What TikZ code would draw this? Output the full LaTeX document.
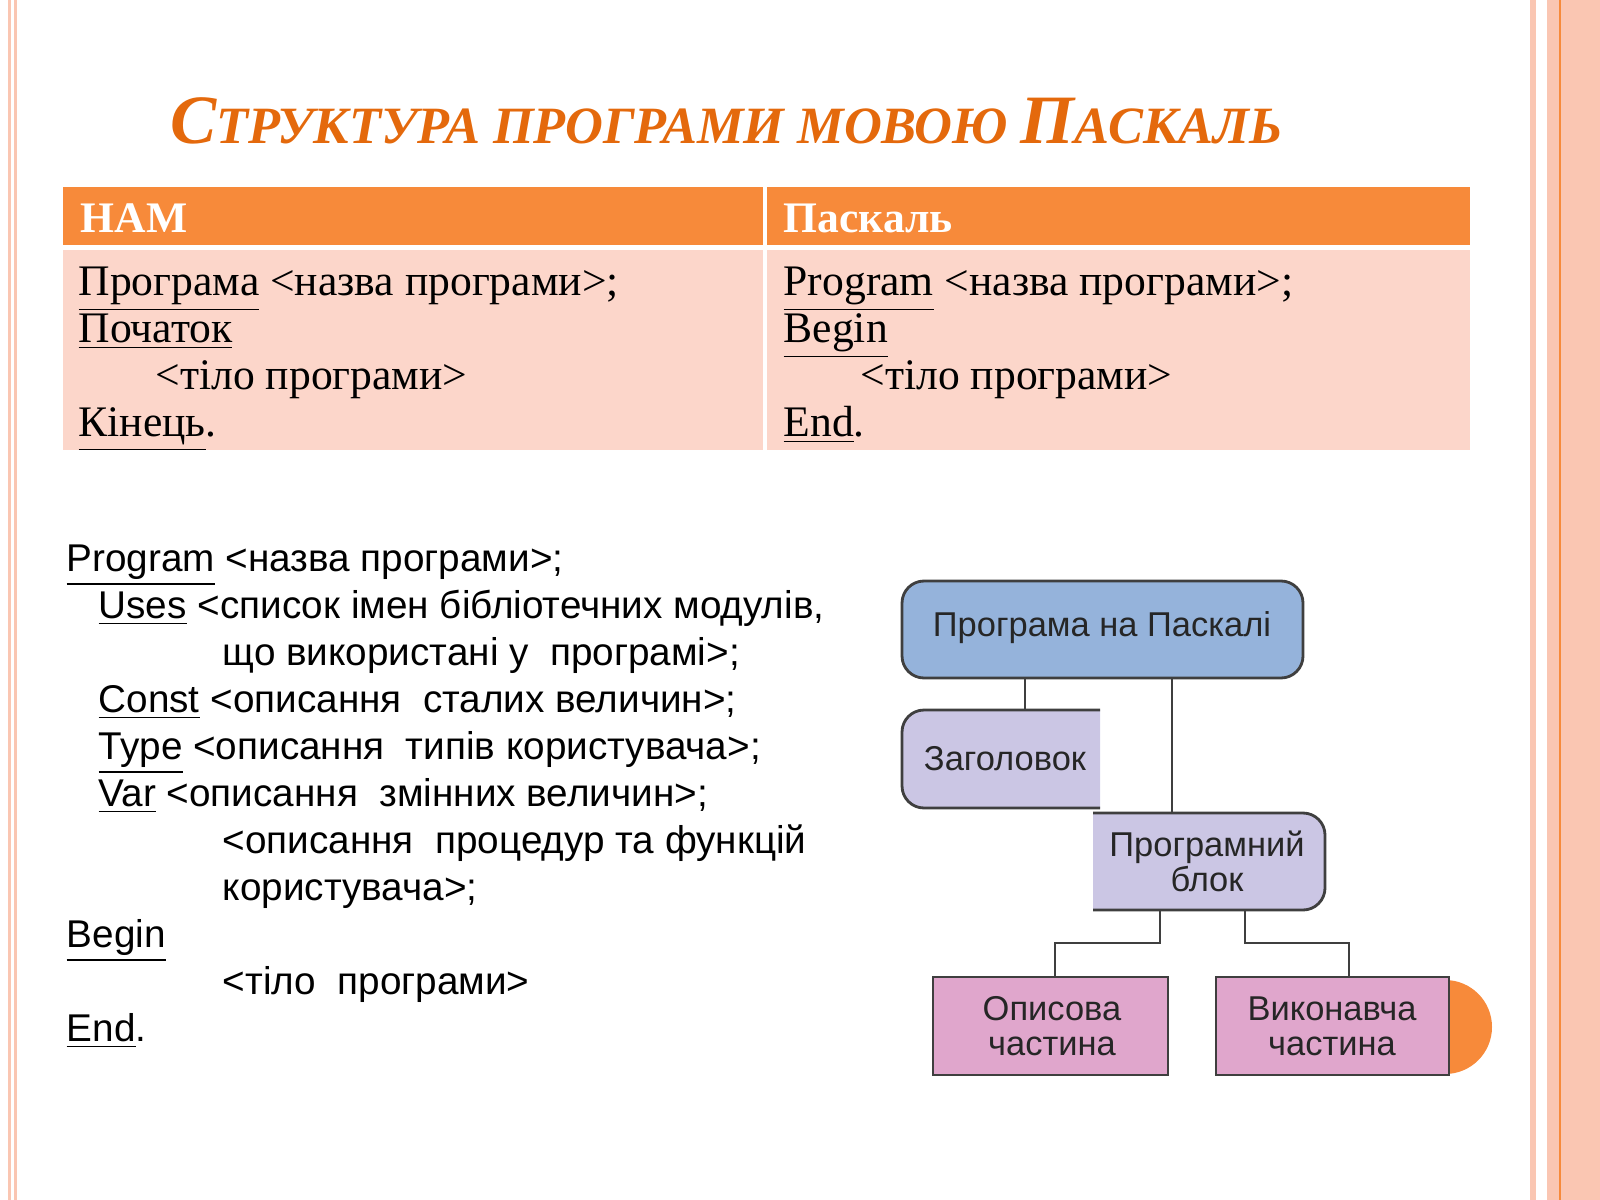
\documentclass[tikz,border=0pt]{standalone}
\usepackage{fontspec}
\setmainfont{Liberation Serif}
\setsansfont{Liberation Sans}
\usetikzlibrary{positioning}
\definecolor{titleor}{HTML}{E4690C}
\definecolor{heador}{HTML}{F78A3A}
\definecolor{bodypink}{HTML}{FCD6CA}
\definecolor{edgepink}{HTML}{FAC6B2}
\definecolor{boxblue}{HTML}{95B3DB}
\definecolor{boxlav}{HTML}{CBC6E4}
\definecolor{boxpink}{HTML}{E0A6CC}
\definecolor{boxline}{HTML}{3F3F3F}
\newcommand{\tsc}[2]{{\fontsize{19.7}{24}\selectfont #1}{\fontsize{14.9}{18}\selectfont #2}}
\tikzset{
  cell/.style={anchor=base west, inner sep=0pt, font=\fontsize{12.4}{14}\selectfont},
  code/.style={anchor=base west, inner sep=0pt, font=\sffamily\fontsize{11}{13}\selectfont},
  boxtxt/.style={font=\sffamily\fontsize{9.8}{11}\selectfont, text=black!85, align=center, inner sep=0pt},
  link/.style={draw=boxline, line width=0.7pt},
  boxedge/.style={draw=boxline, line width=0.8pt},
}
\begin{document}
\begin{tikzpicture}[x=0.01cm, y=-0.01cm]
\useasboundingbox (0,0) rectangle (1600,1200);
% page edges
\fill[edgepink] (8,0) rectangle (11,1200);
\fill[edgepink] (14,0) rectangle (17,1200);
\fill[edgepink] (1530,0) rectangle (1536,1200);
\fill[edgepink] (1547,0) rectangle (1600,1200);
\fill[heador] (1559,0) rectangle (1561,1200);
% title
\node[anchor=base west, inner sep=0pt, text=titleor, font=\bfseries\itshape] (title) at (170,143)
  {\tsc{С}{ТРУКТУРА ПРОГРАМИ МОВОЮ }\tsc{П}{АСКАЛЬ}};
% table
\fill[heador] (63,187) rectangle (1470,245);
\fill[bodypink] (63,250) rectangle (1470,450);
\fill[white] (763,187) rectangle (767,450);
\node[cell, text=white, font=\bfseries\fontsize{12.4}{14}\selectfont] (h1) at (80,232) {НАМ};
\node[cell, text=white, font=\bfseries\fontsize{12.4}{14}\selectfont] (h2) at (783,232) {Паскаль};
\node[cell] (a1) at (78,295) {\underline{Програма} <назва програми>;};
\node[cell] (a2) at (78,342) {\underline{Початок}};
\node[cell] (a3) at (155,389) {<тіло програми>};
\node[cell] (a4) at (78,436) {\underline{Кінець}.};
\node[cell] (b1) at (783,295) {\underline{Program} <назва програми>;};
\node[cell] (b2) at (783,342) {\underline{Begin}};
\node[cell] (b3) at (860,389) {<тіло програми>};
\node[cell] (b4) at (783,436) {\underline{End}.};
% program text
\node[code] (l1) at (66,571) {\underline{Program} <назва програми>;};
\node[code] (l2) at (98,618) {\underline{Uses} <список імен бібліотечних модулів,};
\node[code] (l3) at (222,665) {що використані у\ \ програмі>;};
\node[code] (l4) at (98,712) {\underline{Const} <описання\ \ сталих величин>;};
\node[code] (l5) at (98,759) {\underline{Type} <описання\ \ типів користувача>;};
\node[code] (l6) at (98,806) {\underline{Var} <описання\ \ змінних величин>;};
\node[code] (l7) at (222,853) {<описання\ \ процедур та функцій};
\node[code] (l8) at (222,900) {користувача>;};
\node[code] (l9) at (66,947) {\underline{Begin}};
\node[code] (l10) at (222,994) {<тіло\ \ програми>};
\node[code] (l11) at (66,1041) {\underline{End}.};
% diagram
\fill[heador] (1445,1027) circle (47);
\filldraw[boxedge, fill=boxblue, rounded corners=0.22cm] (902,581) rectangle (1303,678);
\node[boxtxt] (prog) at (1102,628) {Програма на Паскалі};
\filldraw[boxedge, fill=boxlav, rounded corners=0.22cm]
  (1100,710) -- (902,710) -- (902,808) [sharp corners] -- (1100,808);
\node[boxtxt] (zag) at (1005,759) {Заголовок};
\filldraw[boxedge, fill=boxlav, rounded corners=0.22cm]
  (1093,813) -- (1325,813) -- (1325,910) [sharp corners] -- (1093,910);
\node[boxtxt] (blok) at (1207,861) {Програмний\\[-1pt]блок};
\filldraw[boxedge, fill=boxpink] (933,977) rectangle (1168,1075);
\node[boxtxt] (opys) at (1052,1026) {Описова\\[-1pt]частина};
\filldraw[boxedge, fill=boxpink] (1216,977) rectangle (1449,1075);
\node[boxtxt] (vyk) at (1332,1026) {Виконавча\\[-1pt]частина};
% connectors
\coordinate (k1) at (1025,678);
\coordinate (k2) at (1025,710);
\coordinate (k3) at (1172,678);
\coordinate (k4) at (1172,813);
\coordinate (k5) at (1160,910);
\coordinate (k6) at (1055,977);
\coordinate (k7) at (1245,910);
\coordinate (k8) at (1349,977);
\draw[link] (k1) -- (k2);
\draw[link] (k3) -- (k4);
\draw[link] (k5) -- ++(0,33) -| (k6);
\draw[link] (k7) -- ++(0,33) -| (k8);
\end{tikzpicture}
\end{document}
